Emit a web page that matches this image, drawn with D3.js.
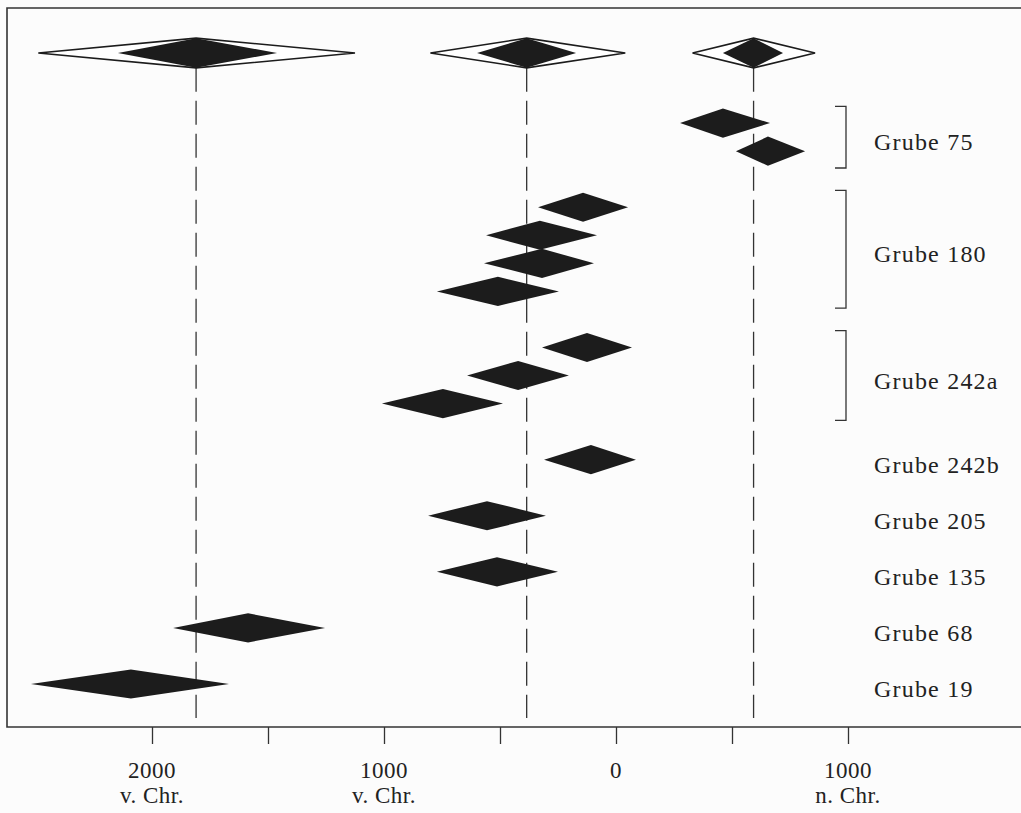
<!DOCTYPE html>
<html>
<head>
<meta charset="utf-8">
<script src="https://cdn.jsdelivr.net/npm/d3@7"></script>
<style>
  html, body { margin: 0; padding: 0; background: #fcfcfc; }
  svg { display: block; }
  text { font-family: "Liberation Serif", "DejaVu Serif", serif; fill: #222; }
</style>
</head>
<body>
<svg id="chart" width="1021" height="813"></svg>
<script>
// ---- Data (years: negative = v. Chr., positive = n. Chr.) ----
// Summary (combined) dates: outer range outline, inner range filled
const sumLow = [-2490, -800, 330];
const sumPeak = [-1810, -385, 593];
const sumHigh = [-1125, 40, 858];
const sumInnerLow = [-2147, -599, 461];
const sumInnerHigh = [-1461, -172, 720];

// Individual dates, one per row
const dateRows = [0, 1, 3, 4, 5, 6, 8, 9, 10, 12, 14, 16, 18, 20];
const dateLow  = [276, 517, -336, -560, -569, -772, -319, -642, -1009, -310, -810, -772, -1909, -2522];
const datePeak = [461, 655, -142, -328, -319, -509, -125, -422, -746, -108, -556, -513, -1586, -2091];
const dateHigh = [664, 815, 52, -82, -95, -246, 69, -203, -487, 86, -302, -250, -1254, -1668];

// Groups (labels) and the rows they span
const groupNames = ["Grube 75", "Grube 180", "Grube 242a", "Grube 242b", "Grube 205", "Grube 135", "Grube 68", "Grube 19"];
const groupFirst = [0, 3, 8, 12, 14, 16, 18, 20];
const groupLast  = [1, 6, 10, 12, 14, 16, 18, 20];

// Axis ticks
const tickValues = [-2000, -1500, -1000, -500, 0, 500, 1000];
const labelValues = [-2000, -1000, 0, 1000];
const labelNumbers = ["2000", "1000", "0", "1000"];
const labelEras = ["v. Chr.", "v. Chr.", "", "n. Chr."];

const summaryRow = -2.5;

// ---- Scales ----
const x = d3.scaleLinear().domain([-2000, 1000]).range([152, 848]);
const y = d3.scaleLinear().domain([summaryRow, 20]).range([53, 684]);
const halfH = y(0.52) - y(0);
const sumHalfH = y(0.53) - y(0);

const svg = d3.select("#chart");
const ink = "#1c1c1c";

// Frame
const frameTop = 8, frameBottom = 727, frameLeft = 7;
svg.append("path")
  .attr("d", `M1030,${frameTop}H${frameLeft}V${frameBottom}H1030`)
  .attr("fill", "none").attr("stroke", "#333").attr("stroke-width", 1.6);

// Axis ticks (below frame)
const axis = d3.axisBottom(x).tickValues(tickValues).tickSize(17).tickFormat("");
const gAxis = svg.append("g").attr("transform", `translate(0,${frameBottom})`).call(axis);
gAxis.select(".domain").remove();
gAxis.selectAll(".tick line").attr("stroke", "#333").attr("stroke-width", 1.3);

const gLab = svg.append("g");
labelValues.forEach((v, i) => {
  gLab.append("text").attr("x", x(v)).attr("y", 778)
    .attr("text-anchor", "middle").attr("font-size", 23).attr("letter-spacing", 0.5).text(labelNumbers[i]);
  if (labelEras[i]) {
    gLab.append("text").attr("x", x(v)).attr("y", 803)
      .attr("text-anchor", "middle").attr("font-size", 23).attr("letter-spacing", 0.5).text(labelEras[i]);
  }
});

// Dashed reference lines from summary peaks
svg.append("g").selectAll("line").data(sumPeak).join("line")
  .attr("x1", d => x(d)).attr("x2", d => x(d))
  .attr("y1", y(summaryRow) + sumHalfH).attr("y2", 718)
  .attr("stroke", "#333").attr("stroke-width", 1.3)
  .attr("stroke-dasharray", "24,9");

function diamond(lo, pk, hi, cy, hh) {
  return `M${x(lo)},${cy}L${x(pk)},${cy - hh}L${x(hi)},${cy}L${x(pk)},${cy + hh}Z`;
}

// Summary diamonds
const gSum = svg.append("g");
sumPeak.forEach((p, i) => {
  gSum.append("path").attr("d", diamond(sumLow[i], p, sumHigh[i], y(summaryRow), sumHalfH))
    .attr("fill", "#fff").attr("stroke", ink).attr("stroke-width", 1.6).attr("stroke-linejoin", "miter");
  gSum.append("path").attr("d", diamond(sumInnerLow[i], p, sumInnerHigh[i], y(summaryRow), sumHalfH))
    .attr("fill", ink);
});

// Individual diamonds
svg.append("g").selectAll("path").data(dateRows).join("path")
  .attr("d", (r, i) => diamond(dateLow[i], datePeak[i], dateHigh[i], y(r), halfH))
  .attr("fill", ink);

// Brackets and labels
const gGrp = svg.append("g");
groupNames.forEach((name, i) => {
  const a = groupFirst[i], b = groupLast[i];
  if (b > a) {
    const y1 = y(a - 0.6), y2 = y(b + 0.6);
    gGrp.append("path").attr("d", `M835,${y1}H846V${y2}H835`)
      .attr("fill", "none").attr("stroke", "#333").attr("stroke-width", 1.3);
  }
  gGrp.append("text").attr("x", 874).attr("y", y((a + b) / 2) + 5)
    .attr("dominant-baseline", "central").attr("font-size", 24).attr("letter-spacing", 1.2).text(name);
});
</script>
</body>
</html>
